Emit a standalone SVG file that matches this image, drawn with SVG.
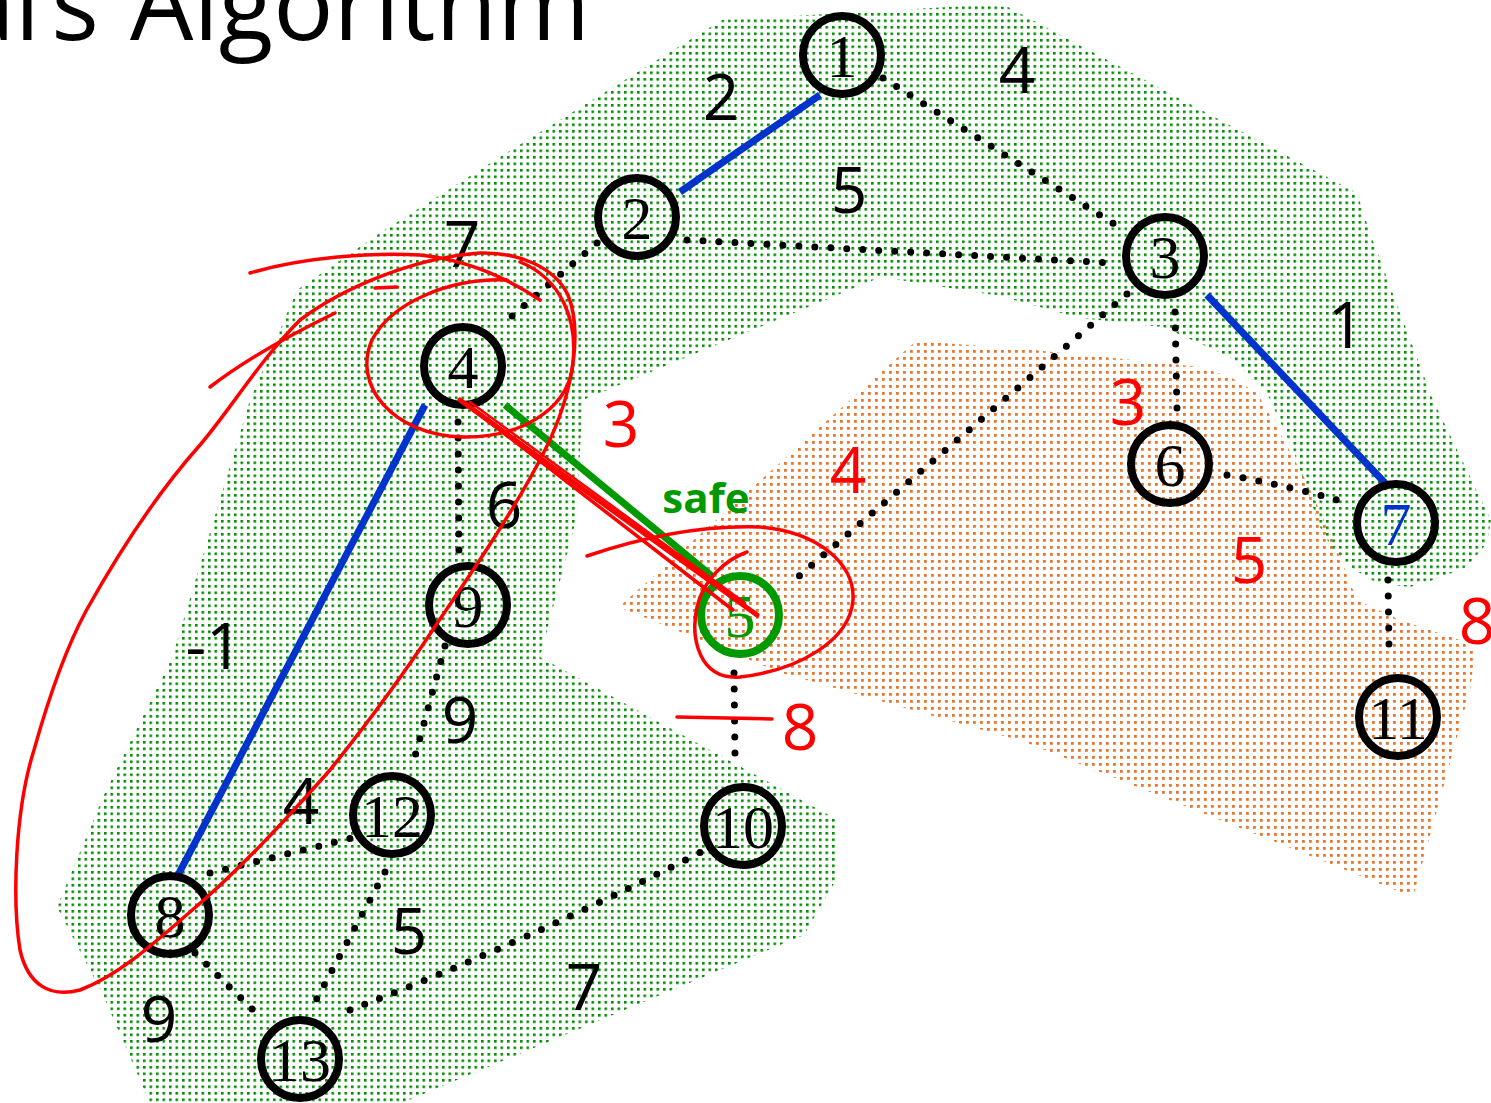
<svg xmlns="http://www.w3.org/2000/svg" width="1491" height="1103" viewBox="0 0 1491 1103">
<defs>
<pattern id="gdots" width="6.5" height="6.5" patternUnits="userSpaceOnUse"><rect x="0" y="0" width="2.6" height="2.6" fill="#008f00"/></pattern>
<pattern id="odots" width="7" height="7" patternUnits="userSpaceOnUse"><rect x="0" y="0" width="2.8" height="2.8" fill="#e8772e"/></pattern>
<style>
.node{fill:none;stroke:#000;stroke-width:8}
.num{font-family:"Liberation Serif","Times New Roman",serif;font-size:62px;text-anchor:middle;fill:#000}
.dot{fill:none;stroke:#000;stroke-width:7;stroke-linecap:round;stroke-dasharray:0 16}
.blue{stroke:#0033cc;stroke-width:7;fill:none}
.grn{stroke:#009900;stroke-width:7;fill:none}
.lbl{font-family:"Open Sans","Liberation Sans",sans-serif;font-size:64px;text-anchor:middle;fill:#000}
.rlbl{font-family:"Open Sans","Liberation Sans",sans-serif;font-size:64px;text-anchor:middle;fill:#ff0000}
.red{fill:none;stroke:#ff0000;stroke-width:3.5;stroke-linecap:round;stroke-linejoin:round}
.title{font-family:"Open Sans","Liberation Sans",sans-serif;font-size:100px;fill:#000}
</style>
</defs>
<rect width="1491" height="1103" fill="#fff"/>
<g id="regions">
<polygon fill="url(#odots)" points="619,607 916,341 1033,350 1133,360 1200,367 1230,377 1257,393 1280,433 1307,483 1333,540 1357,600 1400,620 1460,640 1475,652 1470,690 1413,897 1025,742 782,673"/>
<polygon fill="url(#gdots)" points="722,20 983,5 1008,7 1357,193 1370,233 1433,400 1491,520 1487,543 1467,567 1433,580 1410,587 1377,583 1350,567 1333,550 1320,527 1293,450 1267,393 1230,357 1163,327 1080,318 1000,296 881,277 583,400 576,520 540,657 838,820 836,880 804,935 402,1103 150,1103 103,995 57,907 103,797 172,658 250,400 297,290 380,233 500,157"/>
</g>
<g id="title">
<text class="title" x="40" y="40" text-anchor="end">Kruskal</text>
<text class="title" x="99" y="40" text-anchor="end"><tspan dy="-16">'</tspan><tspan dy="16">s</tspan></text>
<text class="title" x="130" y="40" textLength="460" lengthAdjust="spacingAndGlyphs">Algorithm</text>
</g>
<g id="edges">
<line class="blue" x1="820" y1="95" x2="680" y2="192"/>
<line class="dot" x1="883" y1="78" x2="1119" y2="227"/>
<line class="dot" x1="687" y1="240" x2="1112" y2="263"/>
<line class="dot" x1="597" y1="243" x2="511" y2="317"/>
<line class="dot" x1="1127" y1="294" x2="791" y2="583"/>
<line class="dot" x1="1175" y1="312" x2="1177" y2="410"/>
<line class="blue" x1="1207" y1="295" x2="1385" y2="483"/>
<path class="dot" d="M1227,475 Q1285,485 1337,500"/>
<line class="dot" x1="458" y1="422" x2="459" y2="556"/>
<line class="blue" x1="425" y1="405" x2="178" y2="875"/>
<line class="grn" x1="505" y1="405" x2="713" y2="577"/>
<line class="dot" x1="1388" y1="580" x2="1389" y2="645"/>
<line class="dot" x1="734" y1="673" x2="735" y2="754"/>
<line class="dot" x1="445" y1="646" x2="414" y2="760"/>
<line class="dot" x1="210" y1="873" x2="352" y2="838"/>
<line class="dot" x1="385" y1="872" x2="315" y2="1002"/>
<line class="dot" x1="195" y1="953" x2="253" y2="1010"/>
<path class="dot" d="M350,1010 Q520,945 707,849"/>
</g>
<g id="node-1"><circle class="node" cx="842" cy="55" r="39"/><text class="num" x="842" y="77">1</text></g>
<g id="node-2"><circle class="node" cx="637" cy="217" r="39"/><text class="num" x="637" y="239">2</text></g>
<g id="node-3"><circle class="node" cx="1165" cy="256" r="39"/><text class="num" x="1165" y="278">3</text></g>
<g id="node-4"><circle class="node" cx="463" cy="366" r="39"/><text class="num" x="463" y="388">4</text></g>
<g id="node-5"><circle cx="740" cy="615" r="39" fill="none" stroke="#009900" stroke-width="8"/><text class="num" x="740" y="637" style="fill:#009900">5</text></g>
<g id="node-6"><circle class="node" cx="1170" cy="464" r="39"/><text class="num" x="1170" y="486">6</text></g>
<g id="node-7"><circle class="node" cx="1396" cy="523" r="39"/><text class="num" x="1396" y="545" style="fill:#0033cc">7</text></g>
<g id="node-8"><circle class="node" cx="170" cy="915" r="39"/><text class="num" x="170" y="937">8</text></g>
<g id="node-9"><circle class="node" cx="468" cy="605" r="39"/><text class="num" x="468" y="627">9</text></g>
<g id="node-10"><circle class="node" cx="743" cy="826" r="39"/><text class="num" x="743" y="848">10</text></g>
<g id="node-11"><circle class="node" cx="1398" cy="717" r="39"/><text class="num" x="1398" y="739">11</text></g>
<g id="node-12"><circle class="node" cx="392" cy="815" r="39"/><text class="num" x="392" y="837">12</text></g>
<g id="node-13"><circle class="node" cx="300" cy="1059" r="39"/><text class="num" x="300" y="1081">13</text></g>
<g id="labels">
<text class="lbl" x="721" y="120">2</text>
<text class="lbl" x="1017" y="93">4</text>
<text class="lbl" x="849" y="213">5</text>
<text class="lbl" x="462" y="267">7</text>
<text class="lbl" x="1346" y="348">1</text>
<text class="lbl" x="504" y="528">6</text>
<text class="lbl" x="214" y="669">-1</text>
<text class="lbl" x="460" y="743">9</text>
<text class="lbl" x="301" y="824">4</text>
<text class="lbl" x="409" y="954">5</text>
<text class="lbl" x="159" y="1042">9</text>
<text class="lbl" x="584" y="1010">7</text>
<text class="rlbl" x="621" y="447">3</text>
<text class="rlbl" x="848" y="493">4</text>
<text class="rlbl" x="1128" y="425">3</text>
<text class="rlbl" x="1249" y="583">5</text>
<text class="rlbl" x="1477" y="644">8</text>
<text class="rlbl" x="800" y="750">8</text>
<text x="706" y="513" font-family="'Open Sans','Liberation Sans',sans-serif" font-weight="bold" font-size="42" text-anchor="middle" fill="#009900">safe</text>
</g>
<g id="annotations">
<path class="red" d="M86,611 C120,550 160,490 200,445 C230,410 260,360 300,320 C340,290 410,258 480,253 C520,252 555,268 568,295 C582,330 575,390 545,450 C515,510 470,575 436,625 C400,680 370,720 330,770 C290,815 240,870 190,912 C160,938 120,975 80,990 C50,998 28,985 20,950 C12,900 15,810 34,750 C48,700 65,650 86,611"/>
<path class="red" d="M507,280 C450,278 392,302 372,340 C352,385 392,435 463,437 C520,438 565,410 572,370 C580,320 560,278 520,262"/>
<path class="red" d="M250,273 C300,258 370,252 420,255 C470,260 510,280 540,300"/>
<path class="red" d="M210,387 C245,360 290,335 335,313"/>
<path class="red" d="M375,288 L397,287"/>
<line class="red" x1="460" y1="400" x2="757" y2="615" style="stroke-width:5"/>
<line class="red" x1="466" y1="404" x2="733" y2="610"/>
<line class="red" x1="470" y1="402" x2="745" y2="603" style="stroke-width:2.5"/>
<path class="red" d="M587,556 C640,538 700,525 760,527 C820,532 855,565 853,600 C850,640 800,670 740,677 C700,680 690,640 697,607 C703,580 725,560 747,552"/>
<path class="red" d="M677,717 L772,719"/>
</g>
</svg>
